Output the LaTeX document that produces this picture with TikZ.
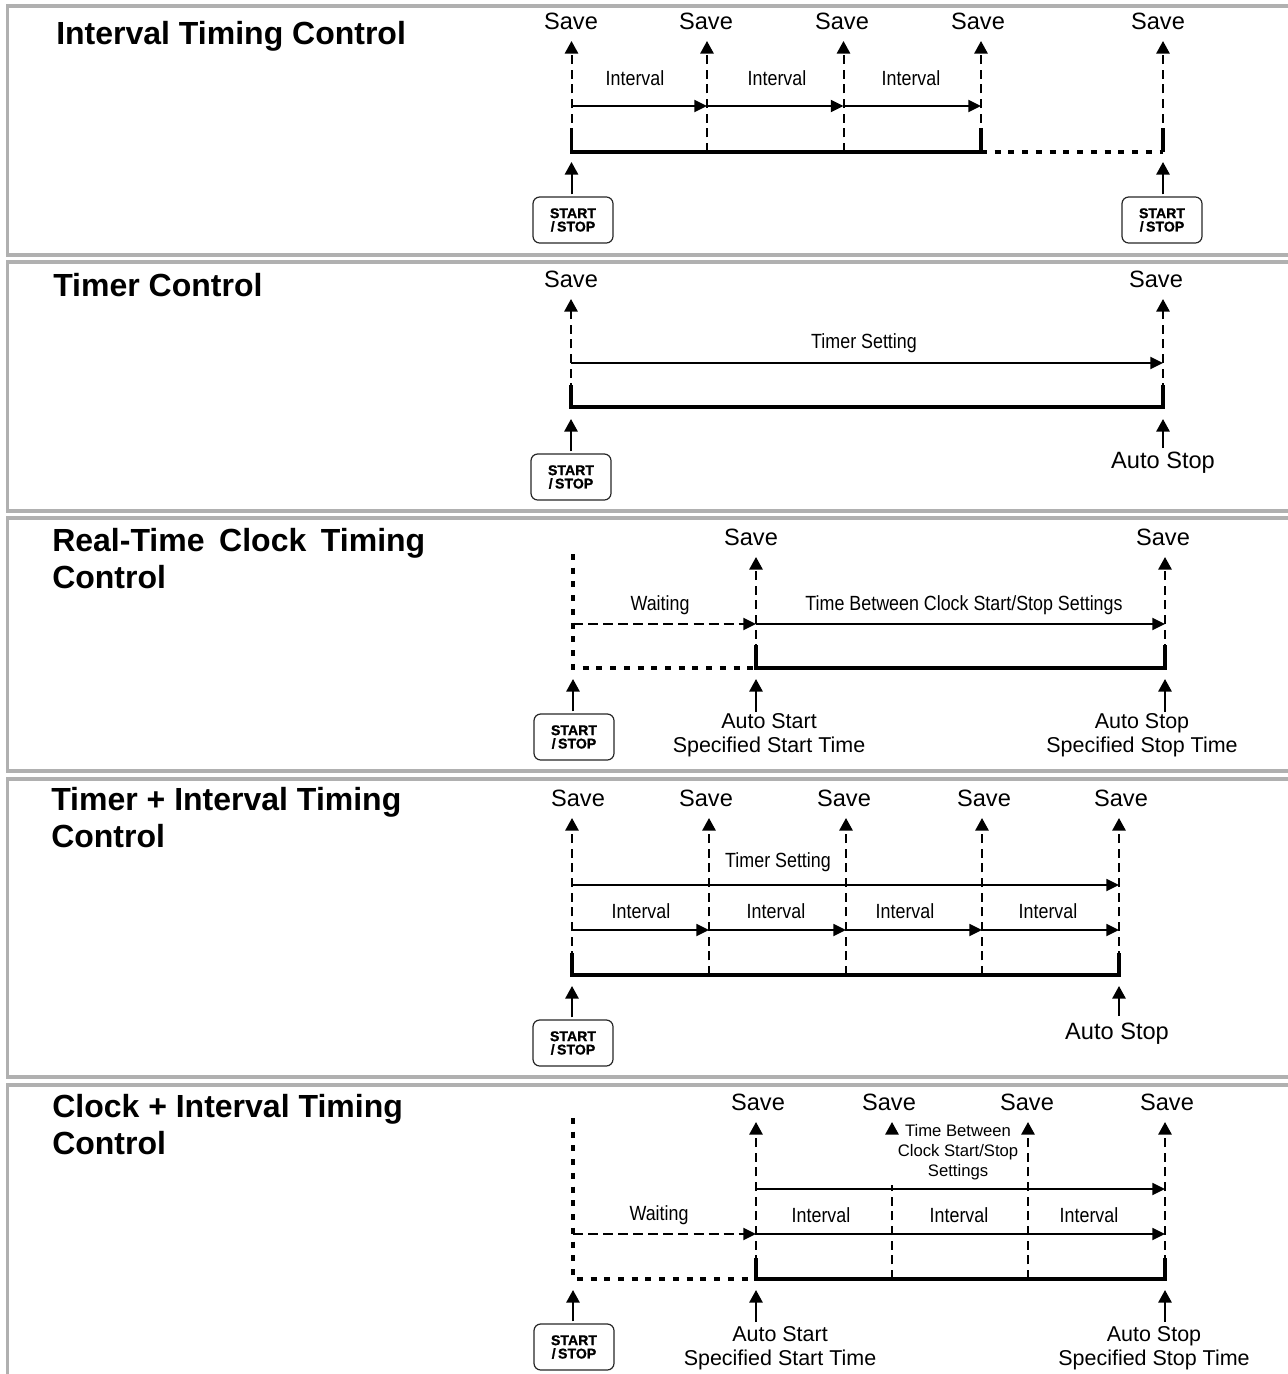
\documentclass[tikz,border=0pt]{standalone}
\usepackage{fontspec}
\setmainfont{Liberation Sans}
\newfontfamily\narrowfont[FakeStretch=0.87]{Liberation Sans}
\newfontfamily\keyfont[BoldFeatures={FakeBold=1}]{Liberation Sans}
\usetikzlibrary{arrows.meta,shapes}
\definecolor{framegray}{HTML}{B0B0B0}
\tikzstyle{frame}=[draw=framegray,line width=2.4pt]
\tikzstyle{ptitle}=[anchor=base west,inner sep=0pt,align=left,font=\fontsize{24}{27.75}\selectfont\bfseries]
\tikzstyle{slabel}=[anchor=base,inner sep=0pt,font=\fontsize{17.7}{18}\selectfont]
\tikzstyle{xlabel}=[anchor=base,inner sep=0pt,align=center,font=\fontsize{16.1}{18}\selectfont]
\tikzstyle{nlabel}=[anchor=base,inner sep=0pt,font=\narrowfont\fontsize{15.4}{18}\selectfont]
\tikzstyle{skey}=[draw=black!85,line width=0.9pt,rounded corners=5pt,minimum width=60pt,minimum height=34.5pt,inner sep=0pt,outer sep=2pt,align=center,font=\keyfont\fontsize{10.6}{10}\selectfont\bfseries]
\tikzstyle{saveln}=[-{Triangle[length=9.5pt,width=10pt]},line width=1.5pt,dash pattern=on 6.8pt off 4.2pt]
\tikzstyle{upln}=[-{Triangle[length=9.5pt,width=10pt]},line width=1.5pt]
\tikzstyle{flow}=[-{Triangle[length=9.5pt,width=9pt]},line width=1.4pt]
\tikzstyle{waitln}=[-{Triangle[length=9.5pt,width=9pt]},line width=1.6pt,dash pattern=on 7.5pt off 3.8pt]
\tikzstyle{run}=[line width=2.4pt]
\tikzstyle{idle}=[line width=2.4pt,dash pattern=on 4.5pt off 5.8pt]
\begin{document}
\begin{tikzpicture}[x=0.75pt,y=-0.75pt]
\useasboundingbox (0,0) rectangle (1288,1374);
\draw[frame] (1290,6)--(7.5,6)--(7.5,255)--(1290,255);
\draw[frame] (1290,262)--(7.5,262)--(7.5,511)--(1290,511);
\draw[frame] (1290,518)--(7.5,518)--(7.5,771)--(1290,771);
\draw[frame] (1290,779)--(7.5,779)--(7.5,1077)--(1290,1077);
\draw[frame] (1290,1085)--(7.5,1085)--(7.5,1376);

\node[ptitle] (Ta) at (56,44) {Interval Timing Control};
\coordinate (Aa) at (571.5,152);\coordinate (Ab) at (707,152);\coordinate (Ac) at (843.5,152);\coordinate (Ad) at (981,152);\coordinate (Ae) at (1163,152);
\coordinate (Ua) at (571.5,41);\coordinate (Ub) at (707,41);\coordinate (Uc) at (843.5,41);\coordinate (Ud) at (981,41);\coordinate (Ue) at (1163,41);
\coordinate (Ma) at (571.5,106);\coordinate (Mb) at (707,106);\coordinate (Mc) at (843.5,106);\coordinate (Md) at (981,106);
\coordinate (La) at (571.5,128);\coordinate (Ld) at (981,128);\coordinate (Le) at (1163,128);
\coordinate (Ga) at (571.5,162);\coordinate (Ge) at (1163,162);
\node[slabel] (Sa) at (571,29) {Save};
\node[slabel] (Sb) at (706,29) {Save};
\node[slabel] (Sc) at (842,29) {Save};
\node[slabel] (Sd) at (978,29) {Save};
\node[slabel] (Se) at (1158,29) {Save};
\node[nlabel] (Na) at (635,85) {Interval};
\node[nlabel] (Nb) at (777,85) {Interval};
\node[nlabel] (Nc) at (911,85) {Interval};
\node[skey] (Ka) at (573,220) {START\\/\,STOP};
\node[skey] (Kb) at (1162,220) {START\\/\,STOP};
\draw[saveln](Aa)--(Ua);\draw[saveln](Ab)--(Ub);\draw[saveln](Ac)--(Uc);\draw[saveln](Ad)--(Ud);\draw[saveln](Ae)--(Ue);
\draw[flow](Ma)--(Mb);\draw[flow](Mb)--(Mc);\draw[flow](Mc)--(Md);
\draw[run](La)--(Aa)--(Ad)--(Ld);\draw[run](Ae)--(Le);\draw[idle](Ad)--(Ae);
\draw[upln](Ka.north-|Ga)--(Ga);\draw[upln](Kb.north-|Ge)--(Ge);

\node[ptitle] (Tb) at (53,296) {Timer Control};
\coordinate (Ba) at (571,407);\coordinate (Bb) at (1163,407);
\coordinate (Va) at (571,299);\coordinate (Vb) at (1163,299);
\coordinate (Pa) at (571,363);\coordinate (Pb) at (1163,363);
\coordinate (Qa) at (571,385);\coordinate (Qb) at (1163,385);
\coordinate (Ha) at (571,419);\coordinate (Hb) at (1163,419);\coordinate (Hc) at (1163,448);
\node[slabel] (Sf) at (571,287) {Save};
\node[slabel] (Sg) at (1156,287) {Save};
\node[nlabel] (Nd) at (864,348) {Timer Setting};
\node[slabel] (Xa) at (1163,468) {Auto Stop};
\node[skey] (Kc) at (571,477) {START\\/\,STOP};
\draw[saveln](Ba)--(Va);\draw[saveln](Bb)--(Vb);
\draw[flow](Pa)--(Pb);
\draw[run](Qa)--(Ba)--(Bb)--(Qb);
\draw[upln](Kc.north-|Ha)--(Ha);\draw[upln](Hc)--(Hb);

\node[ptitle] (Tc) at (52,588) {\makebox[279.75pt][s]{Real-Time Clock Timing}\\Control};
\coordinate (Ca) at (573,668);\coordinate (Cb) at (756,668);\coordinate (Cc) at (1165,668);
\coordinate (Wa) at (573,554);\coordinate (Wb) at (756,557);\coordinate (Wc) at (1165,557);
\coordinate (Ra) at (573,624);\coordinate (Rb) at (756,624);\coordinate (Rc) at (1165,624);
\coordinate (Yb) at (756,645);\coordinate (Yc) at (1165,645);
\coordinate (Ja) at (573,679);\coordinate (Jb) at (756,679);\coordinate (Jc) at (1165,679);
\coordinate (Zb) at (756,712);\coordinate (Zc) at (1165,712);
\node[slabel] (Sh) at (751,545) {Save};
\node[slabel] (Si) at (1163,545) {Save};
\node[nlabel] (Ne) at (660,610) {Waiting};
\node[nlabel] (Nf) at (964,610) {Time Between Clock Start/Stop Settings};
\node[xlabel] (Xb) at (769,752) {Auto Start\\Specified Start Time};
\node[xlabel] (Xc) at (1142,752) {Auto Stop\\Specified Stop Time};
\node[skey] (Kd) at (574,737) {START\\/\,STOP};
\draw[idle](Wa)--(Ca)--(Cb);
\draw[saveln](Cb)--(Wb);\draw[saveln](Cc)--(Wc);
\draw[waitln](Ra)--(Rb);\draw[flow](Rb)--(Rc);
\draw[run](Yb)--(Cb)--(Cc)--(Yc);
\draw[upln](Kd.north-|Ja)--(Ja);\draw[upln](Zb)--(Jb);\draw[upln](Zc)--(Jc);

\node[ptitle] (Td) at (51,847) {Timer + Interval Timing\\Control};
\coordinate (Da) at (572,975);\coordinate (Db) at (709,975);\coordinate (Dc) at (846,975);\coordinate (Dd) at (982,975);\coordinate (De) at (1119,975);
\coordinate (Ea) at (572,818);\coordinate (Eb) at (709,818);\coordinate (Ec) at (846,818);\coordinate (Ed) at (982,818);\coordinate (Ee) at (1119,818);
\coordinate (Fa) at (572,885);\coordinate (Fe) at (1119,885);
\coordinate (Ia) at (572,930);\coordinate (Ib) at (709,930);\coordinate (Ic) at (846,930);\coordinate (Id) at (982,930);\coordinate (Ie) at (1119,930);
\coordinate (Oa) at (572,953);\coordinate (Oe) at (1119,953);
\coordinate (Ra2) at (572,986);\coordinate (Re2) at (1119,986);\coordinate (Rf2) at (1119,1016);
\node[slabel] (Sj) at (578,806) {Save};
\node[slabel] (Sk) at (706,806) {Save};
\node[slabel] (Sl) at (844,806) {Save};
\node[slabel] (Sm) at (984,806) {Save};
\node[slabel] (Sn) at (1121,806) {Save};
\node[nlabel] (Ng) at (778,867) {Timer Setting};
\node[nlabel] (Nh) at (641,918) {Interval};
\node[nlabel] (Ni) at (776,918) {Interval};
\node[nlabel] (Nj) at (905,918) {Interval};
\node[nlabel] (Nk) at (1048,918) {Interval};
\node[slabel] (Xd) at (1117,1039) {Auto Stop};
\node[skey] (Ke) at (573,1043) {START\\/\,STOP};
\draw[saveln](Da)--(Ea);\draw[saveln](Db)--(Eb);\draw[saveln](Dc)--(Ec);\draw[saveln](Dd)--(Ed);\draw[saveln](De)--(Ee);
\draw[flow](Fa)--(Fe);
\draw[flow](Ia)--(Ib);\draw[flow](Ib)--(Ic);\draw[flow](Ic)--(Id);\draw[flow](Id)--(Ie);
\draw[run](Oa)--(Da)--(De)--(Oe);
\draw[upln](Ke.north-|Ra2)--(Ra2);\draw[upln](Rf2)--(Re2);

\node[ptitle] (Te) at (52,1154) {Clock + Interval Timing\\Control};
\coordinate (Gb) at (756,1279);\coordinate (Gc) at (892,1279);\coordinate (Gd) at (1028,1279);\coordinate (Gf) at (1165,1279);\coordinate (Gz) at (573,1279);
\coordinate (Wd) at (756,1122);\coordinate (We) at (892,1122);\coordinate (Wf) at (1028,1122);\coordinate (Wg) at (1165,1122);\coordinate (Wz) at (573,1118);
\coordinate (Mf) at (756,1189);\coordinate (Mg) at (1165,1189);
\coordinate (Mh) at (573,1234);\coordinate (Mi) at (756,1234);\coordinate (Mj) at (1165,1234);
\coordinate (Oh) at (756,1258);\coordinate (Oi) at (1165,1258);
\coordinate (Hh) at (573,1290);\coordinate (Hi) at (756,1290);\coordinate (Hj) at (1165,1290);
\coordinate (Zi) at (756,1322);\coordinate (Zj) at (1165,1322);
\node[slabel] (So) at (758,1110) {Save};
\node[slabel] (Sp) at (889,1110) {Save};
\node[slabel] (Sq) at (1027,1110) {Save};
\node[slabel] (Sr) at (1167,1110) {Save};
\draw[idle](Wz)--(Gz)--(Gb);
\draw[saveln](Gb)--(Wd);\draw[saveln](Gc)--(We);\draw[saveln](Gd)--(Wf);\draw[saveln](Gf)--(Wg);
\fill[white] (889,1137) rectangle (1026,1185);
\node[align=center,inner sep=0pt,font=\fontsize{12.5}{15}\selectfont] (Nl) at (958,1152) {Time Between\\Clock Start/Stop\\Settings};
\node[nlabel] (Nm) at (659,1220) {Waiting};
\node[nlabel] (Nn) at (821,1222) {Interval};
\node[nlabel] (No) at (959,1222) {Interval};
\node[nlabel] (Np) at (1089,1222) {Interval};
\node[xlabel] (Xe) at (780,1365) {Auto Start\\Specified Start Time};
\node[xlabel] (Xf) at (1154,1365) {Auto Stop\\Specified Stop Time};
\node[skey] (Kf) at (574,1347) {START\\/\,STOP};
\draw[flow](Mf)--(Mg);
\draw[waitln](Mh)--(Mi);\draw[flow](Mi)--(Mj);
\draw[run](Oh)--(Gb)--(Gf)--(Oi);
\draw[upln](Kf.north-|Hh)--(Hh);\draw[upln](Zi)--(Hi);\draw[upln](Zj)--(Hj);
\end{tikzpicture}
\end{document}
